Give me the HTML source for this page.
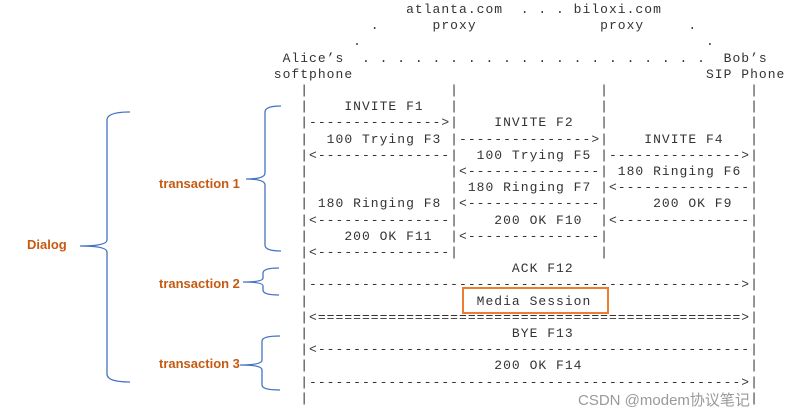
<!DOCTYPE html>
<html><head><meta charset="utf-8"><style>
html,body{margin:0;padding:0;background:#fff;width:808px;height:419px;overflow:hidden;position:relative}
pre{position:absolute;left:212px;top:2px;margin:0;font-family:"Liberation Mono",monospace;font-size:13px;letter-spacing:1.02px;line-height:16.2px;color:#333}
.lbl{position:absolute;font-family:"Liberation Sans",sans-serif;font-weight:bold;font-size:13px;color:#c55a11}
.box{position:absolute;left:462px;top:287px;width:143px;height:23px;border:2px solid #ed7d31}
.wm{position:absolute;left:578px;top:389px;font-family:"Liberation Sans","Noto Sans CJK SC",sans-serif;font-size:15px;color:#999}
</style></head><body>
<pre>                      atlanta.com  . . . biloxi.com
                  .      proxy              proxy     .
                .                                       .
        Alice’s  . . . . . . . . . . . . . . . . . . . .  Bob’s
       softphone                                        SIP Phone
          |                |                |                |
          |    INVITE F1   |                |                |
          |--------------->|    INVITE F2   |                |
          |  100 Trying F3 |--------------->|    INVITE F4   |
          |&lt;---------------|  100 Trying F5 |--------------->|
          |                |&lt;---------------| 180 Ringing F6 |
          |                | 180 Ringing F7 |&lt;---------------|
          | 180 Ringing F8 |&lt;---------------|     200 OK F9  |
          |&lt;---------------|    200 OK F10  |&lt;---------------|
          |    200 OK F11  |&lt;---------------|                |
          |&lt;---------------|                |                |
          |                       ACK F12                    |
          |------------------------------------------------->|
          |                   Media Session                  |
          |&lt;================================================>|
          |                       BYE F13                    |
          |&lt;-------------------------------------------------|
          |                     200 OK F14                   |
          |------------------------------------------------->|
          |                                                  |</pre>
<div class="box"></div>
<svg width="808" height="419" style="position:absolute;left:0;top:0" fill="none" stroke="#4472c4" stroke-width="1.3">
<path d="M130 112 Q107 112 107 120 L107 240 Q107 246 80 246 Q107 246 107 252 L107 374 Q107 382 130 382"/>
<path d="M281 106 Q265 106 265 112 L265 173 Q265 179 246 179 Q265 179 265 185 L265 245 Q265 251 281 251"/>
<path d="M279 268 Q263 268 263 273 L263 278 Q263 282 243 282 Q263 282 263 286 L263 290 Q263 295 279 295"/>
<path d="M280 336 Q262 336 262 341 L262 360 Q262 365 240 365 Q262 365 262 370 L262 385 Q262 390 280 390"/>
</svg>
<div class="lbl" style="left:27px;top:237px">Dialog</div>
<div class="lbl" style="left:159px;top:176px">transaction 1</div>
<div class="lbl" style="left:159px;top:276px">transaction 2</div>
<div class="lbl" style="left:159px;top:356px">transaction 3</div>
<div class="wm">CSDN @modem协议笔记</div>
</body></html>
